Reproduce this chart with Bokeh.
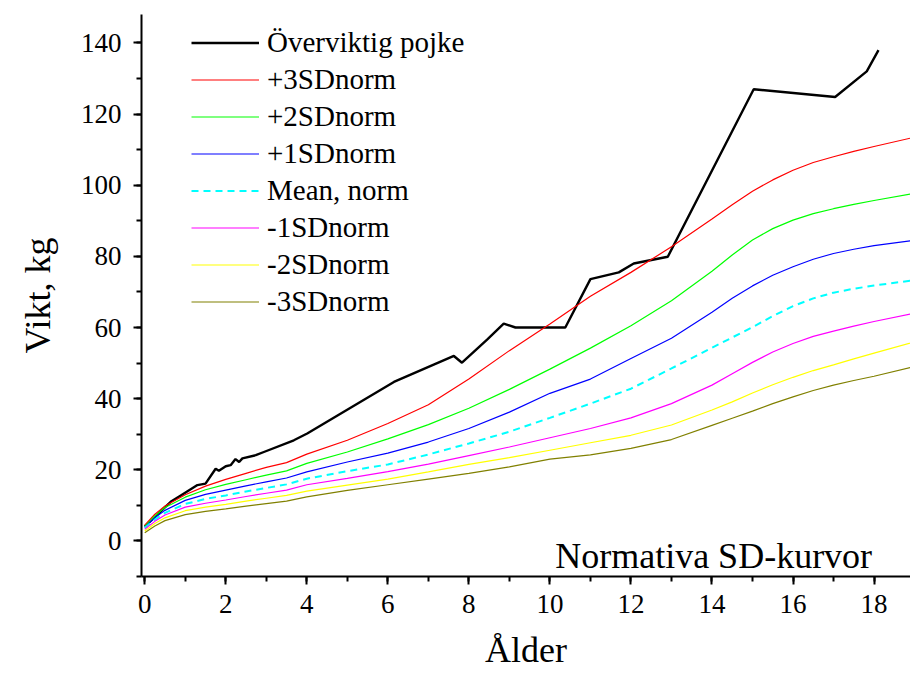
from bokeh.plotting import figure
from bokeh.models import Legend, LegendItem, Label, Range1d, SingleIntervalTicker
from bokeh.embed import file_html
from bokeh.resources import INLINE

# ---- data -----------------------------------------------------------------
ages = [0, 0.25, 0.5, 1, 1.5, 2, 2.5, 3, 3.5, 4, 5, 6, 7, 8, 9, 10,
        11, 12, 13, 14, 14.5, 15, 15.5, 16, 16.5, 17, 17.5, 18, 19]

sd_p3 = [4.4, 7.5, 9.8, 13.0, 15.4, 17.3, 19.0, 20.7, 22.0, 24.4, 28.3, 33.0,
         38.3, 45.5, 53.5, 61.0, 68.8, 75.5, 82.7, 90.5, 94.5, 98.3, 101.5,
         104.2, 106.4, 108.0, 109.5, 110.9, 113.5]
sd_p2 = [4.1, 7.0, 9.4, 12.3, 14.4, 15.9, 17.2, 18.5, 19.7, 21.8, 25.0, 28.7,
         32.7, 37.3, 42.6, 48.3, 54.2, 60.5, 67.5, 75.8, 80.4, 84.6, 87.8,
         90.2, 92.0, 93.4, 94.6, 95.7, 97.7]
sd_p1 = [3.8, 6.5, 8.6, 11.4, 13.1, 14.3, 15.5, 16.6, 17.7, 19.4, 22.2, 24.7,
         27.8, 31.6, 36.2, 41.5, 45.5, 51.3, 57.0, 64.3, 68.2, 71.7, 74.7,
         77.1, 79.2, 80.8, 82.0, 83.0, 84.5]
sd_mean = [3.6, 6.0, 7.9, 10.4, 11.8, 12.8, 13.9, 14.9, 15.9, 17.5, 19.6, 21.5,
           24.3, 27.4, 30.7, 34.6, 38.6, 42.8, 48.5, 54.3, 57.2, 60.1, 63.2,
           66.0, 68.2, 69.8, 70.9, 71.8, 73.3]
sd_m1 = [3.3, 5.5, 7.3, 9.5, 10.6, 11.5, 12.5, 13.4, 14.3, 15.8, 17.6, 19.5,
         21.6, 24.0, 26.4, 29.0, 31.6, 34.6, 38.6, 43.8, 47.0, 50.2, 53.1,
         55.5, 57.5, 59.0, 60.4, 61.7, 64.0]
sd_m2 = [2.8, 4.9, 6.5, 8.5, 9.5, 10.3, 11.2, 12.0, 12.8, 14.0, 15.7, 17.4,
         19.4, 21.5, 23.4, 25.5, 27.6, 29.7, 32.6, 36.8, 39.1, 41.6, 43.9,
         46.0, 47.9, 49.5, 51.2, 52.8, 56.0]
sd_m3 = [2.3, 4.2, 5.7, 7.4, 8.3, 9.0, 9.8, 10.5, 11.2, 12.4, 14.2, 15.8,
         17.4, 19.0, 20.8, 23.0, 24.2, 26.0, 28.5, 32.5, 34.5, 36.5, 38.6,
         40.5, 42.3, 43.8, 45.1, 46.3, 49.0]

boy_age = [0, 0.64, 0.89, 1.3, 1.5, 1.75, 1.83, 2.0, 2.12, 2.24, 2.33, 2.41,
           2.74, 2.94, 3.68, 4.01, 6.15, 7.63, 7.83, 8.45, 8.86, 9.15, 10.38,
           11.0, 11.7, 12.07, 12.91, 15.03, 17.04, 17.82, 18.11]
boy_weight = [4.0, 11.0, 12.8, 15.7, 16.1, 20.3, 19.7, 21.0, 21.3, 23.0, 22.2,
              23.2, 24.1, 25.0, 28.3, 30.2, 44.7, 52.0, 50.1, 56.6, 61.1, 60.0,
              60.0, 73.6, 75.5, 78.0, 79.9, 127.0, 124.8, 132.0, 138.0]

labels = ["Överviktig pojke", "+3SDnorm", "+2SDnorm", "+1SDnorm",
          "Mean, norm", "-1SDnorm", "-2SDnorm", "-3SDnorm"]

# ---- figure ---------------------------------------------------------------
FONT = "Liberation Serif"

p = figure(width=910, height=675, output_backend="svg", toolbar_location=None,
           x_range=Range1d(-0.08, 18.9), y_range=Range1d(-10, 148),
           min_border_left=141, min_border_right=0, min_border_top=14,
           min_border_bottom=99)
p.outline_line_color = None
p.xgrid.visible = False
p.ygrid.visible = False
p.background_fill_color = "white"
p.border_fill_color = "white"

r_boy = p.line(boy_age, boy_weight, line_color="black", line_width=2.4)
r_p3 = p.line(ages, sd_p3, line_color="#FF0000", line_width=1.2)
r_p2 = p.line(ages, sd_p2, line_color="#00FF00", line_width=1.2)
r_p1 = p.line(ages, sd_p1, line_color="#0000FF", line_width=1.2)
r_mean = p.line(ages, sd_mean, line_color="#00FFFF", line_width=2,
                line_dash="7 5")
r_m1 = p.line(ages, sd_m1, line_color="#FF00FF", line_width=1.2)
r_m2 = p.line(ages, sd_m2, line_color="#FFFF00", line_width=1.2)
r_m3 = p.line(ages, sd_m3, line_color="#808000", line_width=1.2)

renderers = [r_boy, r_p3, r_p2, r_p1, r_mean, r_m1, r_m2, r_m3]
legend = Legend(items=[LegendItem(label=l, renderers=[r])
                       for l, r in zip(labels, renderers)],
                location=(50, 256), padding=0, margin=0, spacing=0,
                glyph_width=68, glyph_height=37, label_height=37,
                label_standoff=8, border_line_alpha=0,
                background_fill_alpha=0,
                label_text_font=FONT, label_text_font_size="29px",
                label_text_color="black")
p.add_layout(legend, "center")

# axes
for ax in (p.xaxis[0], p.yaxis[0]):
    ax.axis_line_width = 2
    ax.axis_line_color = "black"
    ax.major_tick_line_width = 2
    ax.minor_tick_line_width = 2
    ax.major_tick_in = 0
    ax.major_tick_out = 8
    ax.minor_tick_in = 0
    ax.minor_tick_out = 5
    ax.major_label_text_font = FONT
    ax.major_label_text_font_size = "27px"
    ax.major_label_text_color = "black"
    ax.axis_label_text_font = FONT
    ax.axis_label_text_font_size = "36px"
    ax.axis_label_text_font_style = "normal"
    ax.axis_label_text_color = "black"

p.xaxis.ticker = SingleIntervalTicker(interval=2, num_minor_ticks=2)
p.yaxis.ticker = SingleIntervalTicker(interval=20, num_minor_ticks=2)
p.xaxis.axis_label = "Ålder"
p.yaxis.axis_label = "Vikt, kg"
p.xaxis.major_label_standoff = 10
p.yaxis.major_label_standoff = 12
p.xaxis.axis_label_standoff = 14
p.yaxis.axis_label_standoff = 20

p.add_layout(Label(x=10.13, y=-4.3, text="Normativa SD-kurvor",
                   text_font=FONT, text_font_size="36px",
                   text_color="black", text_baseline="alphabetic"))

open("out.html", "w").write(file_html(p, INLINE))
